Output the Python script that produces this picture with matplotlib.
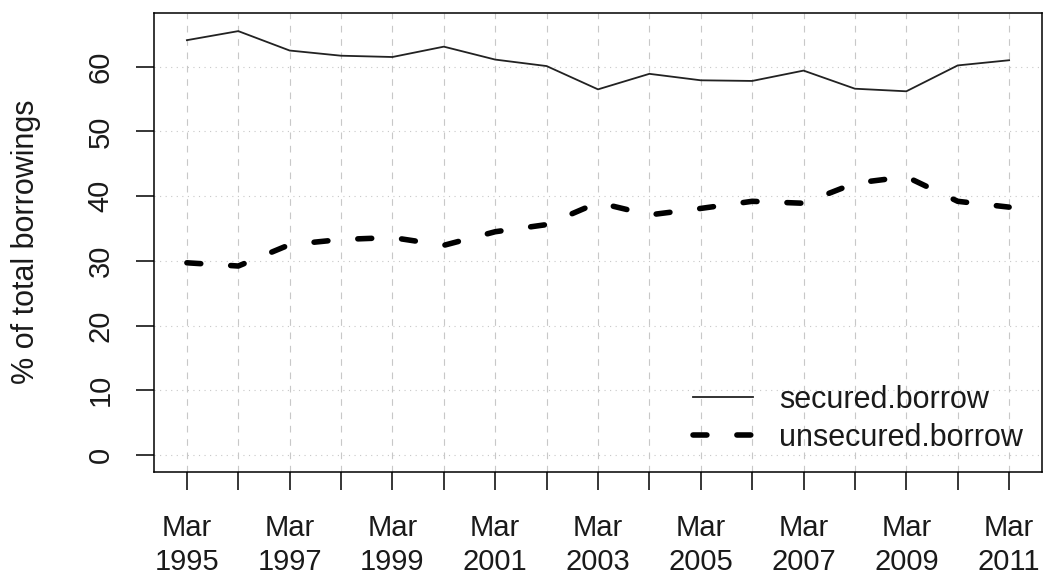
import matplotlib
matplotlib.use("Agg")
import matplotlib.pyplot as plt
from matplotlib.lines import Line2D

plt.rcParams['font.family'] = ['Liberation Sans', 'DejaVu Sans']

years = list(range(1995, 2012))
secured = [64.1, 65.5, 62.5, 61.7, 61.5, 63.1, 61.1, 60.1, 56.5, 58.9, 57.9,
           57.8, 59.4, 56.6, 56.2, 60.2, 61.0]
unsecured = [29.7, 29.2, 32.5, 33.3, 33.6, 32.4, 34.5, 35.6, 39.0, 37.1, 38.1,
             39.2, 38.9, 42.0, 43.0, 39.2, 38.3]
xlabels = [f"Mar\n{y}" if (y - 1995) % 2 == 0 else "" for y in years]
yticks = [0, 10, 20, 30, 40, 50, 60]
series_names = ["secured.borrow", "unsecured.borrow"]

W, H = 1044, 579
fig = plt.figure(figsize=(W / 100, H / 100), dpi=100)
ax = fig.add_axes([154 / W, (H - 472) / H, (1042 - 154) / W, (472 - 13) / H])

ax.set_xlim(1994.36, 2011.64)
ax.set_ylim(-2.63, 68.3)

TXT = '#1a1a1a'
# grid
for y in years:
    ax.axvline(y, color='#c8c8c8', lw=0.8, ls=(0, (6, 6)), zorder=0)
for t in yticks:
    ax.axhline(t, color='#c8c8c8', lw=0.8, ls=(0, (1, 4)), zorder=0)

ax.plot(years, secured, color='#222222', lw=1.3, solid_joinstyle='round')
ax.plot(years, unsecured, color='black', lw=4.0, ls=(0, (2.5, 5.4)),
        dash_capstyle='round')

ax.set_xticks(years)
ax.set_xticklabels(xlabels, fontsize=21, linespacing=1.27, color=TXT)
ax.set_yticks(yticks)
ax.set_yticklabels([str(t) for t in yticks], fontsize=21, color=TXT)
for lab in ax.get_yticklabels():
    lab.set_rotation(90)
    lab.set_va('center')
ax.tick_params(axis='x', length=13, width=1.1, pad=17.5)
ax.tick_params(axis='y', length=13, width=1.1, pad=15.5)
for sp in ax.spines.values():
    sp.set_linewidth(1.1)

fig.text(26 / W, 1 - 242 / H, "% of total borrowings", rotation=90,
         ha='center', va='center', fontsize=22, color=TXT)

handles = [Line2D([], [], color='#222222', lw=1.3),
           Line2D([], [], color='black', lw=4.0, ls=(0, (2.5, 5.4)),
                  dash_capstyle='round')]
ax.legend(handles, series_names, loc='upper left',
          bbox_to_anchor=((693 - 154) / 888, (472 - 385) / 459),
          frameon=False, fontsize=22, borderpad=0, borderaxespad=0,
          handlelength=1.95, handletextpad=0.88, labelspacing=0.25,
          labelcolor=TXT)

fig.savefig("out.png", dpi=100)
